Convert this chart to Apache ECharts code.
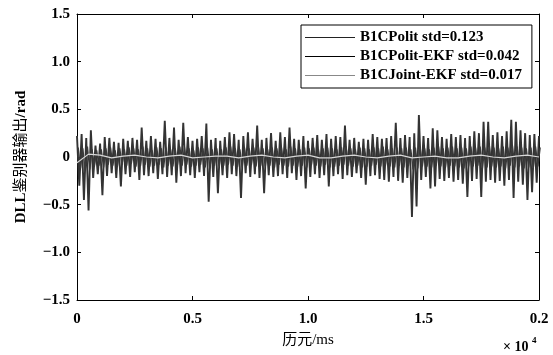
<!DOCTYPE html>
<html>
<head>
<meta charset="utf-8">
<script src="https://cdn.jsdelivr.net/npm/echarts@6/dist/echarts.min.js"></script>
<style>html,body{margin:0;padding:0;background:#fff;}#c{width:553px;height:355px;}</style>
</head>
<body>
<div id="c"></div>
<script>
// ---- data ----
var seriesNames = ['B1CPolit std=0.123', 'B1CPolit-EKF std=0.042', 'B1CJoint-EKF std=0.017'];
var xTickValues = [0, 500, 1000, 1500, 2000];
var xTickLabels = ['0', '0.5', '1.0', '1.5', '0.2'];
var yTickLabels = ['\u22121.5', '\u22121.0', '\u22120.5', '0', '0.5', '1.0', '1.5'];
var step1 = 10, step2 = 10, step3 = 50; // epoch spacing of samples

var polit = [
 0.22,-0.30,0.24,-0.45,0.20,-0.56,0.28,-0.22,0.12,-0.18,
 0.14,-0.40,0.21,-0.20,0.20,-0.17,0.16,-0.22,0.15,-0.31,
 0.19,-0.18,0.17,-0.21,0.20,-0.16,0.18,-0.24,0.31,-0.19,
 0.17,-0.20,0.22,-0.17,0.19,-0.23,0.16,-0.18,0.38,-0.21,
 0.20,-0.19,0.31,-0.27,0.18,-0.20,0.36,-0.17,0.21,-0.19,
 0.17,-0.22,0.19,-0.16,0.22,-0.20,0.35,-0.47,0.18,-0.21,
 0.20,-0.38,0.17,-0.19,0.21,-0.22,0.26,-0.18,0.24,-0.20,
 0.18,-0.43,0.22,-0.17,0.26,-0.21,0.19,-0.18,0.33,-0.22,
 0.18,-0.38,0.20,-0.19,0.25,-0.21,0.17,-0.20,0.26,-0.18,
 0.21,-0.22,0.31,-0.17,0.19,-0.24,0.18,-0.20,0.22,-0.33,
 0.17,-0.21,0.20,-0.18,0.23,-0.22,0.18,-0.19,0.24,-0.31,
 0.19,-0.20,0.22,-0.18,0.21,-0.23,0.33,-0.19,0.18,-0.21,
 0.20,-0.17,0.16,-0.22,0.19,-0.29,0.18,-0.20,0.24,-0.19,
 0.21,-0.23,0.19,-0.24,0.20,-0.26,0.22,-0.21,0.36,-0.25,
 0.20,-0.27,0.23,-0.22,0.21,-0.63,0.25,-0.52,0.44,-0.24,
 0.22,-0.21,0.20,-0.33,0.30,-0.31,0.28,-0.23,0.21,-0.25,
 0.19,-0.22,0.24,-0.26,0.21,-0.24,0.23,-0.28,0.20,-0.42,
 0.22,-0.25,0.27,-0.23,0.25,-0.42,0.37,-0.26,0.37,-0.24,
 0.23,-0.27,0.26,-0.25,0.22,-0.30,0.27,-0.24,0.39,-0.43,
 0.37,-0.26,0.28,-0.29,0.25,-0.45,0.23,-0.37,0.24,-0.27,
 0.22
];
var politEkf = [
 0.10,-0.12,0.09,-0.14,0.11,-0.13,0.08,-0.10,0.07,-0.09,
 0.08,-0.11,0.09,-0.08,0.10,-0.09,0.07,-0.10,0.09,-0.08,
 0.08,-0.09,0.10,-0.07,0.09,-0.10,0.08,-0.09,0.11,-0.08,
 0.09,-0.10,0.07,-0.09,0.10,-0.08,0.09,-0.11,0.10,-0.09,
 0.08,-0.10,0.09,-0.08,0.11,-0.09,0.10,-0.08,0.09,-0.10,
 0.07,-0.09,0.10,-0.08,0.09,-0.11,0.10,-0.12,0.08,-0.09,
 0.09,-0.10,0.08,-0.09,0.10,-0.08,0.11,-0.09,0.09,-0.10,
 0.08,-0.11,0.10,-0.09,0.09,-0.08,0.10,-0.10,0.11,-0.09,
 0.09,-0.10,0.08,-0.09,0.10,-0.11,0.09,-0.08,0.10,-0.09,
 0.08,-0.10,0.11,-0.09,0.09,-0.10,0.08,-0.09,0.10,-0.11,
 0.09,-0.08,0.10,-0.09,0.08,-0.10,0.09,-0.08,0.10,-0.11,
 0.09,-0.10,0.08,-0.09,0.10,-0.08,0.11,-0.09,0.09,-0.10,
 0.08,-0.09,0.10,-0.11,0.09,-0.10,0.08,-0.09,0.10,-0.08,
 0.09,-0.10,0.11,-0.09,0.08,-0.10,0.09,-0.11,0.10,-0.09,
 0.09,-0.11,0.10,-0.09,0.08,-0.13,0.10,-0.12,0.11,-0.10,
 0.09,-0.10,0.08,-0.11,0.10,-0.09,0.11,-0.10,0.09,-0.11,
 0.10,-0.09,0.11,-0.10,0.09,-0.11,0.10,-0.12,0.09,-0.10,
 0.11,-0.10,0.10,-0.09,0.11,-0.12,0.10,-0.11,0.12,-0.10,
 0.10,-0.11,0.09,-0.10,0.11,-0.12,0.10,-0.09,0.12,-0.11,
 0.11,-0.10,0.10,-0.12,0.09,-0.11,0.10,-0.12,0.11,-0.10,
 0.10
];
var jointEkf = [
 -0.06,0.03,0.02,-0.01,0.01,0.02,0.00,-0.01,0.01,0.02,
 -0.01,0.00,0.01,0.01,-0.01,0.01,0.02,0.00,-0.01,0.01,
 0.02,-0.01,-0.01,0.01,0.02,0.00,-0.01,0.01,0.02,-0.01,
 0.00,0.01,-0.01,-0.01,0.01,0.02,0.00,-0.01,0.01,0.02,
 0.00
];

function toXY(arr, step, offset) {
  return arr.map(function (v, i) { return [i * step + offset, v]; });
}

var chart = echarts.init(document.getElementById('c'), null, {renderer: 'canvas'});
var serif = "'Liberation Serif', 'Times New Roman', 'Noto Sans CJK SC', serif";
var cjk = "'Liberation Serif', 'Noto Sans CJK SC', serif";

var axisCommon = {
  axisLine: {show: true, onZero: false, lineStyle: {color: '#000', width: 1}},
  axisTick: {show: true, inside: true, length: 4, lineStyle: {color: '#000'}},
  splitLine: {show: false}
};

var option = {
  backgroundColor: '#fff',
  animation: false,
  grid: {left: 77, right: 14, top: 14, bottom: 55, containLabel: false},
  legend: {
    orient: 'vertical',
    left: 301, top: 25,
    padding: [5, 10, 5, 4],
    icon: 'rect',
    itemWidth: 50, itemHeight: 1.2, itemGap: 4,
    borderColor: '#000', borderWidth: 1,
    backgroundColor: '#fff',
    textStyle: {fontFamily: serif, fontSize: 15, fontWeight: 'bold', color: '#000', height: 13, lineHeight: 13},
    data: [
      {name: seriesNames[0], itemStyle: {color: '#222'}},
      {name: seriesNames[1], itemStyle: {color: '#000'}},
      {name: seriesNames[2], itemStyle: {color: '#888'}}
    ]
  },
  xAxis: [
    Object.assign({}, axisCommon, {
      type: 'value', min: 0, max: 2000, interval: 500,
      position: 'bottom',
      name: '历元/ms', nameLocation: 'middle', nameGap: 33,
      nameTextStyle: {fontFamily: cjk, fontSize: 15, color: '#000'},
      axisLabel: {
        margin: 12, color: '#000', fontFamily: serif, fontSize: 15, fontWeight: 'bold',
        formatter: function (v) { var k = xTickValues.indexOf(v); return k >= 0 ? xTickLabels[k] : ''; }
      }
    }),
    Object.assign({}, axisCommon, {
      type: 'value', min: 0, max: 2000, interval: 500,
      position: 'top', axisLabel: {show: false}
    })
  ],
  yAxis: [
    Object.assign({}, axisCommon, {
      type: 'value', min: -1.5, max: 1.5, interval: 0.5,
      position: 'left',
      name: '{b|DLL}鉴别器输出{b|/rad}', nameLocation: 'middle', nameGap: 48, nameRotate: 90,
      nameTextStyle: {fontFamily: cjk, fontSize: 15, color: '#000',
        rich: {b: {fontFamily: serif, fontSize: 15, fontWeight: 'bold', color: '#000'}}},
      axisLabel: {
        margin: 7, color: '#000', fontFamily: serif, fontSize: 15, fontWeight: 'bold',
        formatter: function (v) { var k = Math.round((v + 1.5) / 0.5); return yTickLabels[k]; }
      }
    }),
    Object.assign({}, axisCommon, {
      type: 'value', min: -1.5, max: 1.5, interval: 0.5,
      position: 'right', axisLabel: {show: false}
    })
  ],
  series: [
    {name: seriesNames[0], type: 'line', data: toXY(polit, step1, 0), showSymbol: false, symbol: 'none',
     lineStyle: {color: '#333', width: 1.9}, itemStyle: {color: '#333'}, z: 2},
    {name: seriesNames[1], type: 'line', data: toXY(politEkf, step2, 5), showSymbol: false, symbol: 'none',
     lineStyle: {color: '#3a3a3a', width: 1.4}, itemStyle: {color: '#3a3a3a'}, z: 3},
    {name: seriesNames[2], type: 'line', data: toXY(jointEkf, step3, 0), showSymbol: false, symbol: 'none',
     lineStyle: {color: '#d8d8d8', width: 1.2}, itemStyle: {color: '#d8d8d8'}, z: 4}
  ],
  graphic: [
    {type: 'text', left: 503, top: 340, style: {text: '× 10', font: "bold 14px 'Liberation Serif'", fill: '#000'}},
    {type: 'text', left: 532, top: 336, style: {text: '4', font: "bold 9px 'Liberation Serif'", fill: '#000'}}
  ]
};
chart.setOption(option);
</script>
</body>
</html>
